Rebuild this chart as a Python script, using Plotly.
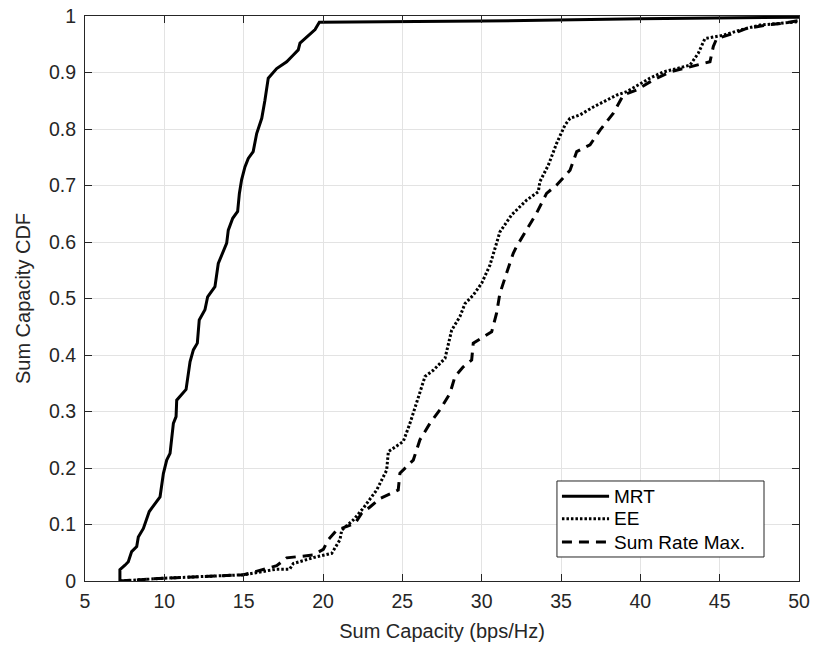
import plotly.graph_objects as go

mrt_x = [7.2, 7.2, 7.52, 7.73, 7.94, 8.26, 8.36, 8.68, 9.05, 9.73, 9.94, 10.15, 10.36, 10.57, 10.74,
         10.78, 11.37, 11.62, 11.83, 12.08, 12.2, 12.56, 12.73, 13.19, 13.4, 13.65, 13.93, 14.03,
         14.31, 14.62, 14.73, 14.87, 15.08, 15.29, 15.6, 15.82, 16.14, 16.34, 16.55, 17.08, 17.71,
         18.13, 18.44, 18.55, 18.97, 19.5, 19.77, 30, 40, 50]
mrt_y = [0, 0.02, 0.028, 0.034, 0.052, 0.061, 0.078, 0.093, 0.123, 0.149, 0.19, 0.214, 0.226, 0.279,
         0.291, 0.32, 0.339, 0.388, 0.409, 0.421, 0.462, 0.48, 0.503, 0.521, 0.562, 0.58, 0.598, 0.621,
         0.642, 0.654, 0.686, 0.71, 0.733, 0.748, 0.76, 0.792, 0.819, 0.851, 0.89, 0.907, 0.919, 0.931,
         0.94, 0.952, 0.963, 0.976, 0.989, 0.991, 0.995, 0.998]

ee_x = [7.2, 10, 15, 17.08, 17.9, 18.13, 19.6, 20.55, 21.07, 21.18, 21.91, 22.54, 23.38, 24.01, 24.12,
        25.06, 25.48, 26.01, 26.43, 26.95, 27.69, 28.11, 28.63, 28.95, 29.47, 30.0, 30.52, 30.94, 31.15,
        31.89, 32.83, 33.57, 33.67, 34.2, 34.73, 35.25, 35.57, 36.2, 37.04, 38.51, 39.14, 40.61, 41.45,
        43.13, 43.65, 44.07, 45.23, 46.28, 47.54, 48.8, 49.95, 50]
ee_y = [0, 0.005, 0.011, 0.021, 0.021, 0.031, 0.043, 0.049, 0.073, 0.09, 0.108, 0.129, 0.161, 0.196,
        0.229, 0.247, 0.279, 0.326, 0.362, 0.373, 0.394, 0.444, 0.468, 0.491, 0.506, 0.527, 0.559, 0.598,
        0.618, 0.648, 0.674, 0.689, 0.707, 0.736, 0.775, 0.807, 0.819, 0.825, 0.839, 0.86, 0.866, 0.89,
        0.901, 0.913, 0.934, 0.96, 0.966, 0.975, 0.984, 0.987, 0.99, 0.99]

srm_x = [7.2, 10, 15, 17.08, 17.71, 19.39, 20.02, 20.33, 20.86, 21.39, 22.02, 22.44, 22.96, 23.59, 24.74,
         24.85, 25.69, 26.11, 26.74, 27.37, 28.0, 28.32, 28.84, 29.37, 29.47, 30.0, 30.63, 30.94, 31.15,
         31.57, 31.99, 32.2, 32.83, 33.46, 34.09, 34.73, 35.57, 35.99, 36.83, 37.46, 38.3, 38.93, 39.77,
         40.82, 41.87, 43.13, 44.39, 44.6, 44.81, 45.86, 46.7, 47.96, 49.22, 50]
srm_y = [0, 0.005, 0.011, 0.027, 0.041, 0.046, 0.056, 0.073, 0.09, 0.096, 0.102, 0.12, 0.131, 0.146,
         0.161, 0.191, 0.214, 0.25, 0.279, 0.303, 0.332, 0.362, 0.379, 0.391, 0.421, 0.43, 0.441, 0.474,
         0.509, 0.545, 0.58, 0.592, 0.621, 0.651, 0.686, 0.701, 0.727, 0.76, 0.772, 0.798, 0.828, 0.86,
         0.869, 0.887, 0.901, 0.91, 0.919, 0.946, 0.96, 0.969, 0.978, 0.984, 0.988, 0.992]

series_names = ["MRT", "EE", "Sum Rate Max."]

x_ticks = [5, 10, 15, 20, 25, 30, 35, 40, 45, 50]
y_ticks = [0, 0.1, 0.2, 0.3, 0.4, 0.5, 0.6, 0.7, 0.8, 0.9, 1]
y_tick_text = ["0", "0.1", "0.2", "0.3", "0.4", "0.5", "0.6", "0.7", "0.8", "0.9", "1"]

FONT = "Liberation Sans, Arial, Helvetica, sans-serif"
TXT = "#262626"
DASHES = ["solid", "2.5px,2px", "10px,7px"]

fig = go.Figure()
for xs, ys, name, dash in zip([mrt_x, ee_x, srm_x], [mrt_y, ee_y, srm_y], series_names, DASHES):
    fig.add_trace(go.Scatter(x=xs, y=ys, mode="lines", name=name, showlegend=False,
                             line=dict(color="black", width=3, dash=dash)))

axis_common = dict(
    showgrid=True, gridcolor="#e3e3e3", gridwidth=1,
    showline=True, linecolor=TXT, linewidth=1, mirror="ticks",
    ticks="inside", ticklen=7, tickcolor=TXT, tickwidth=1,
    zeroline=False, automargin=False, ticklabeloverflow="allow",
    tickfont=dict(family=FONT, size=19.5, color=TXT),
)

# legend box drawn in paper coordinates (plot-area fractions)
box = dict(x0=0.661, x1=0.951, y0=0.0425, y1=0.177)
row_y = [0.150, 0.110, 0.069]
line_x0, line_x1, text_x = 0.668, 0.734, 0.738

shapes = [dict(type="rect", xref="paper", yref="paper", layer="above",
               fillcolor="white", line=dict(color=TXT, width=1), **box)]
annotations = []
for ry, name, dash in zip(row_y, series_names, DASHES):
    shapes.append(dict(type="line", xref="paper", yref="paper", layer="above",
                       x0=line_x0, x1=line_x1, y0=ry, y1=ry,
                       line=dict(color="black", width=3, dash=dash)))
    annotations.append(dict(text=name, xref="paper", yref="paper", x=text_x, y=ry,
                            xanchor="left", yanchor="middle", showarrow=False,
                            font=dict(family=FONT, size=19, color="black")))

fig.update_layout(
    width=813, height=648,
    margin=dict(l=85, r=14, t=16, b=67),
    paper_bgcolor="white", plot_bgcolor="white",
    font=dict(family=FONT, color=TXT),
    showlegend=False,
    hovermode=False,
    shapes=shapes, annotations=annotations,
    xaxis=dict(
        range=[5, 50], tickvals=x_ticks, ticktext=[str(v) for v in x_ticks],
        ticklabelstandoff=3,
        title=dict(text="Sum Capacity (bps/Hz)", font=dict(family=FONT, size=20, color=TXT), standoff=12),
        **axis_common,
    ),
    yaxis=dict(
        range=[0, 1], tickvals=y_ticks, ticktext=y_tick_text,
        ticklabelstandoff=4,
        title=dict(text="Sum Capacity CDF", font=dict(family=FONT, size=20, color=TXT), standoff=12),
        **axis_common,
    ),
)

fig.write_html("out.html",
               config={"displayModeBar": False, "staticPlot": True},
               post_script="document.body.style.margin='0';document.body.style.overflow='hidden';")
